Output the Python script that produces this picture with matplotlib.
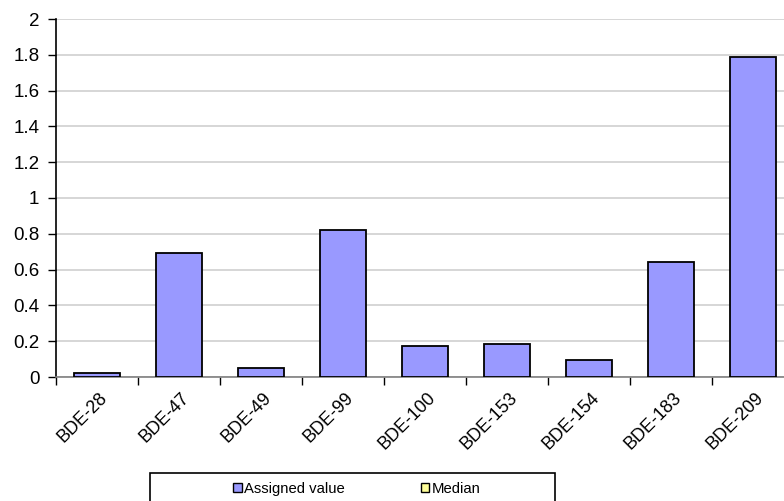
import matplotlib
matplotlib.use("Agg")
import matplotlib.pyplot as plt
from matplotlib.patches import Patch, Rectangle
import numpy as np

plt.rcParams['font.family'] = ['Liberation Sans', 'DejaVu Sans']

congeners = ['BDE-28', 'BDE-47', 'BDE-49', 'BDE-99', 'BDE-100',
             'BDE-153', 'BDE-154', 'BDE-183', 'BDE-209']
assigned = [0.02, 0.69, 0.05, 0.82, 0.175, 0.185, 0.097, 0.64, 1.79]
y_ticks = [0, 0.2, 0.4, 0.6, 0.8, 1, 1.2, 1.4, 1.6, 1.8, 2]
y_labels = ['0', '0.2', '0.4', '0.6', '0.8', '1', '1.2', '1.4', '1.6', '1.8', '2']

fig = plt.figure(figsize=(7.84, 5.01), dpi=100)
# plot area runs slightly past the right edge of the canvas
ax = fig.add_axes([56 / 784, 1 - 377 / 501, (794 - 56) / 784, (377 - 19) / 501])

x = np.arange(len(congeners)) + 0.5
ax.bar(x, assigned, width=0.55, color='#9999ff', edgecolor='black',
       linewidth=1.3, zorder=3)

ax.set_xlim(0, len(congeners))
ax.set_ylim(0, 2)
ax.set_yticks(y_ticks)
ax.set_yticklabels(y_labels, fontsize=13.5)
ax.yaxis.grid(True, color='#d0d0d0', linewidth=1.2, zorder=0)
ax.tick_params(axis='y', length=6, width=1, pad=6, direction='out')

# category ticks sit on the boundaries, labels in between
ax.set_xticks(np.arange(len(congeners) + 1))
ax.set_xticklabels([])
ax.set_xticks(x + 0.02, minor=True)
ax.set_xticklabels(congeners, minor=True, rotation=45, ha='right',
                   va='top', rotation_mode='anchor', fontsize=13)
ax.tick_params(axis='x', which='major', length=6, width=1, direction='out')
ax.tick_params(axis='x', which='minor', length=0, pad=9)

for side in ['top', 'right']:
    ax.spines[side].set_visible(False)
ax.spines['left'].set_linewidth(1.2)
ax.spines['bottom'].set_color('#808080')
ax.spines['bottom'].set_linewidth(1.2)

# legend box hanging off the bottom
fig.patches.append(Rectangle((150 / 784, -0.05), 405 / 784, 0.05 + (501 - 473) / 501,
                             transform=fig.transFigure, fill=False,
                             edgecolor='black', linewidth=1.2))
handles = [Patch(facecolor='#9999ff', edgecolor='black', linewidth=1),
           Patch(facecolor='#ffff99', edgecolor='black', linewidth=1)]
fig.legend(handles, ['Assigned value', 'Median'], loc='center',
           bbox_to_anchor=(0.455, 1 - 489 / 501), ncol=2, frameon=False,
           fontsize=10.7, handlelength=0.6, handleheight=0.6,
           handletextpad=0.15, columnspacing=5.1)

fig.savefig('out.png', dpi=100)
